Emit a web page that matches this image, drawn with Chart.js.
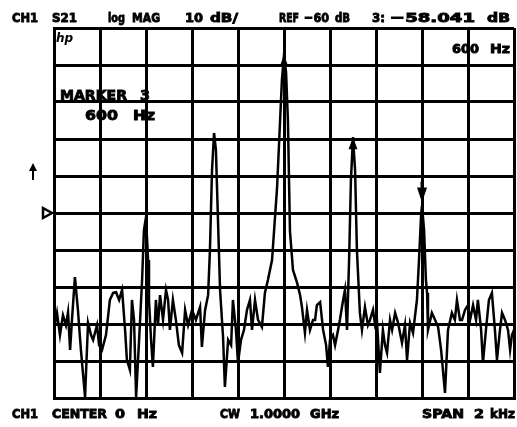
<!DOCTYPE html>
<html>
<head>
<meta charset="utf-8">
<script src="https://cdn.jsdelivr.net/npm/chart.js@4"></script>
<style>
  html, body { margin: 0; padding: 0; background: #fff; }
  #wrap { width: 517px; height: 427px; }
</style>
</head>
<body>
<div id="wrap"><canvas id="s21" width="517" height="427"></canvas></div>
<script>
// S21 log MAG trace, CENTER 0 Hz, SPAN 2 kHz
const freqHz = [
  -1000,-987,-974,-961,-948,-939,-930,-922,-909,-896,
  -883,-865,-852,-839,-830,-813,-804,-791,-774,-757,
  -743,-730,-717,-704,-691,-683,-670,-661,-652,-643,
  -630,-617,-609,-600,-591,-587,-578,-570,-557,-548,
  -539,-526,-513,-504,-496,-483,-470,-457,-443,-430,
  -417,-400,-383,-365,-357,-343,-330,-322,-313,-304,
  -296,-287,-278,-265,-257,-243,-230,-222,-209,-200,
  -187,-174,-161,-148,-139,-126,-113,-96,-83,-70,
  -52,-30,-17,-9,0,9,17,26,39,57,
  70,78,91,100,113,126,135,143,157,170,
  183,191,200,213,222,235,243,257,265,274,
  283,291,300,309,317,330,339,352,365,374,
  387,396,404,417,430,439,448,461,470,483,
  496,513,526,535,548,561,578,587,596,600,
  609,617,622,626,643,657,670,683,700,713,
  730,743,752,765,774,787,800,809,822,835,
  843,857,865,878,891,904,917,926,939,948,
  961,974,983,991,1000
];
const magDb = [
  -91.6,-87,-93,-87.6,-90.3,-86.8,-97,-89,-77.3,-86.2,
  -97,-109.7,-89.7,-93,-94.3,-90.3,-95.7,-97,-93,-83.5,
  -81.6,-81.4,-83.5,-80.8,-91.6,-99.7,-102.4,-83.5,-88.9,-109.7,
  -94.3,-78.1,-64.6,-61.1,-72.7,-83.5,-94.3,-101.6,-83.5,-90.3,
  -82.2,-88.9,-80.8,-83.5,-91.6,-83.5,-88.9,-95.7,-97.8,-86.2,
  -90.3,-86.2,-88.9,-85.4,-96.2,-86.2,-82.2,-70,-48.4,-38.4,
  -43,-61.9,-80.8,-93.5,-107,-94.3,-95.7,-83.5,-91.6,-100.5,
  -94.3,-91.6,-86.2,-83.5,-91.6,-83.5,-88.9,-90.8,-81.6,-78.1,
  -72.7,-53,-35,-24,-17.3,-22,-35,-65,-75.4,-78.9,
  -82.2,-85.4,-92.4,-86.2,-91.6,-88.9,-88.9,-84.9,-84.1,-91.6,
  -95.7,-101.6,-94.3,-93,-95.7,-91.6,-88.9,-83.5,-80.8,-91.6,
  -72.7,-51.1,-39.5,-48.4,-70,-87,-91.6,-85.4,-90.3,-88.9,
  -86.2,-90.3,-88.9,-103.2,-91.6,-95.7,-97.8,-88.9,-91.6,-87,
  -89.7,-95.1,-90.3,-99.7,-89.7,-92.4,-83.5,-72.7,-60.5,-58.0,
  -64.6,-78.1,-81.6,-91.6,-87,-88.9,-90.8,-97,-108.6,-91.6,
  -87,-88.9,-83.5,-88.9,-88.9,-86.2,-84.9,-88.9,-84.9,-88.9,
  -83.5,-91.6,-100.5,-91.6,-83.5,-81.6,-91.6,-99.7,-91.6,-87,
  -88.9,-91.6,-97,-93,-91.6
];

// markers 1..3, marker 3 is the active one
const markerHz = [0, 300, 600];
const activeMarker = 3;

// scale: REF -60 dB at centre, 10 dB/div, 10 divisions each way
const refDb = -60;
const dbPerDiv = 10;
const spanHz = 2000;

// header / footer annotation text
const headerWords = ["CH1", "S21", "log", "MAG", "10", "dB/", "REF", "\u221260", "dB", "3:", "\u221258.041", "dB"];
const footerWords = ["CH1", "CENTER", "0", "Hz", "CW", "1.0000", "GHz", "SPAN", "2", "kHz"];

const points = freqHz.map((f, i) => ({ x: f, y: magDb[i] }));

// word boxes [left, right] in px
const headerBox = [[12,38],[52,77],[108,125],[132,160],[185,203],[210,238],[279,299],[304,329],[335,350],[372,385],[390,475],[487,510]];
const footerBox = [[12,38],[52,107],[115,125],[137,157],[220,240],[250,300],[310,339],[422,464],[474,484],[490,515]];

function fitText(ctx, txt, x0, x1, base, size) {
  ctx.save();
  ctx.font = "bold " + size + "px 'DejaVu Sans'";
  ctx.textBaseline = "alphabetic";
  ctx.textAlign = "left";
  const w = ctx.measureText(txt).width;
  ctx.translate(x0, base);
  ctx.scale((x1 - x0) / w, 1);
  ctx.lineWidth = 0.9;
  ctx.fillText(txt, 0, 0);
  ctx.strokeText(txt, 0, 0);
  ctx.restore();
}

const annotate = {
  id: "annotate",
  afterDatasetsDraw(chart) {
    const ctx = chart.ctx;
    const xs = chart.scales.x, ys = chart.scales.y;
    ctx.save();
    ctx.fillStyle = "#000";
    ctx.strokeStyle = "#000";
    markerHz.forEach((hz, k) => {
      const i = freqHz.indexOf(hz);
      const px = xs.getPixelForValue(hz);
      const py = ys.getPixelForValue(magDb[i]);
      ctx.beginPath();
      if (k + 1 === activeMarker) {
        ctx.moveTo(px - 5, py - 18);
        ctx.lineTo(px + 5, py - 18);
        ctx.lineTo(px, py - 3);
        ctx.closePath();
        ctx.fill();
        ctx.fillRect(px - 1.5, py - 24, 3, 6);
      } else {
        ctx.moveTo(px, py);
        ctx.lineTo(px - 4.5, py + 12);
        ctx.lineTo(px + 4.5, py + 12);
        ctx.closePath();
        ctx.fill();
      }
    });
    ctx.restore();
  },
  afterDraw(chart) {
    const ctx = chart.ctx;
    const ys = chart.scales.y;
    ctx.save();
    ctx.fillStyle = "#000";
    ctx.strokeStyle = "#000";
    headerWords.forEach((w, i) => fitText(ctx, w, headerBox[i][0], headerBox[i][1], 22, 13));
    footerWords.forEach((w, i) => fitText(ctx, w, footerBox[i][0], footerBox[i][1], 418, 13));

    // marker readout
    fitText(ctx, "MARKER", 60, 127, 100, 14);
    fitText(ctx, "3", 140, 150, 100, 14);
    fitText(ctx, "600", 85, 118, 120, 14);
    fitText(ctx, "Hz", 133, 155, 120, 14);
    fitText(ctx, "600", 452, 479, 53, 13);
    fitText(ctx, "Hz", 490, 510, 53, 13);

    // hp logo
    ctx.font = "italic bold 12px 'DejaVu Sans'";
    ctx.fillText("hp", 56, 42);

    // reference position marker
    const ry = ys.getPixelForValue(refDb);
    ctx.lineWidth = 2.5;
    ctx.beginPath();
    ctx.moveTo(43, ry - 5);
    ctx.lineTo(52, ry);
    ctx.lineTo(43, ry + 5);
    ctx.closePath();
    ctx.stroke();

    // scale arrow on the left
    ctx.lineWidth = 2;
    ctx.beginPath();
    ctx.moveTo(33, 180);
    ctx.lineTo(33, 168);
    ctx.stroke();
    ctx.beginPath();
    ctx.moveTo(33, 163);
    ctx.lineTo(29, 171);
    ctx.lineTo(37, 171);
    ctx.closePath();
    ctx.fill();
    ctx.restore();
  }
};

const gridStyle = { color: "#000", lineWidth: 3, drawTicks: false };
const borderStyle = { color: "#000", width: 3 };

new Chart(document.getElementById("s21"), {
  type: "scatter",
  data: {
    datasets: [{
      data: points,
      showLine: true,
      borderColor: "#000",
      borderWidth: 2.5,
      pointRadius: 0,
      tension: 0
    }]
  },
  options: {
    responsive: false,
    animation: false,
    layout: { padding: { left: 54, right: 3, top: 28, bottom: 29 } },
    plugins: { legend: { display: false }, tooltip: { enabled: false } },
    scales: {
      x: {
        type: "linear",
        min: -spanHz / 2, max: spanHz / 2,
        ticks: { display: false, stepSize: spanHz / 10 },
        grid: gridStyle, border: borderStyle
      },
      y: {
        min: refDb - 5 * dbPerDiv, max: refDb + 5 * dbPerDiv,
        ticks: { display: false, stepSize: dbPerDiv },
        grid: gridStyle, border: borderStyle
      }
    }
  },
  plugins: [annotate]
});
</script>
</body>
</html>
